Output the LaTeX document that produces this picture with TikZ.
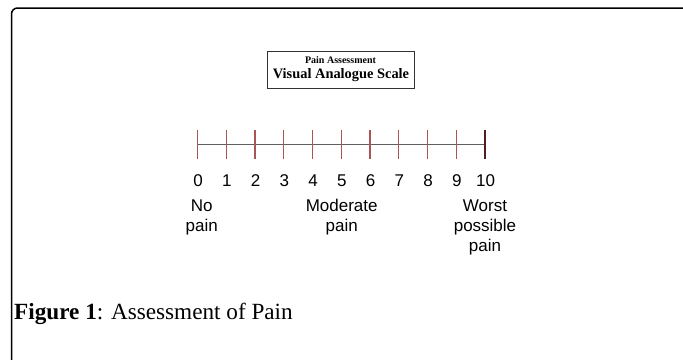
\documentclass[tikz,border=0pt]{standalone}
\usepackage{fontspec}
\setmainfont{Liberation Serif}
\newfontfamily\arialfont{Liberation Sans}
\definecolor{tickred}{RGB}{170,85,85}
\definecolor{tickdark}{RGB}{80,30,30}
\definecolor{axisgray}{RGB}{95,95,95}
\begin{document}
\begin{tikzpicture}[x=1pt,y=-1pt,
  numlab/.style={font=\arialfont\fontsize{17}{20}\selectfont,anchor=base,inner sep=0pt},
  wordlab/.style={font=\arialfont\fontsize{17}{20}\selectfont,anchor=base,inner sep=0pt},
  tickline/.style={draw=tickred,line width=1.2pt},
  titlebox/.style={draw=black!80,line width=0.9pt,minimum width=147pt,minimum height=37pt,inner sep=0pt}]
\useasboundingbox (0,0) rectangle (683,359);
\begin{scope}
\clip (0,0) rectangle (683,359);
\draw[line width=1.5pt,rounded corners=6pt] (11.5,370) -- (11.5,8) -- (688,8) -- (688,370);
\end{scope}
% title box
\node[titlebox] (box) at (340.5,69.5) {};
\node[inner sep=0pt,font=\fontsize{10}{12}\selectfont\bfseries] (t1) at (340.5,60.5) {Pain Assessment};
\node[inner sep=0pt,font=\fontsize{14.4}{16}\selectfont\bfseries] (t2) at (341,75) {Visual Analogue Scale};
% scale
\foreach \i in {0,...,10} {
  \coordinate (c\i) at ({197.5+28.75*\i},144.3);
}
\draw[draw=axisgray,line width=1.3pt] (c0) -- (c10);
\foreach \i in {0,...,9} {
  \draw[tickline] ([yshift=-14.3pt]c\i) -- ([yshift=14.7pt]c\i);
}
\draw[tickline,draw=tickdark] ([yshift=-14.3pt]c10) -- ([yshift=14.7pt]c10);
\foreach \i in {0,...,10} {
  \node[numlab] (n\i) at ({198+28.75*\i},186.7) {\i};
}
\node[wordlab] (w1a) at (201.7,211.7) {No};
\node[wordlab] (w1b) at (201.7,231.7) {pain};
\node[wordlab] (w2a) at (341.7,211.7) {Moderate};
\node[wordlab] (w2b) at (341.7,231.7) {pain};
\node[wordlab] (w3a) at (485,211.7) {Worst};
\node[wordlab] (w3b) at (485,231.7) {possible};
\node[wordlab] (w3c) at (485,251.7) {pain};
% caption
\node[anchor=base west,inner sep=0pt,font=\fontsize{23.2}{27}\selectfont] (cap) at (14,319) {\textbf{Figure 1}: Assessment of Pain};
\end{tikzpicture}
\end{document}
